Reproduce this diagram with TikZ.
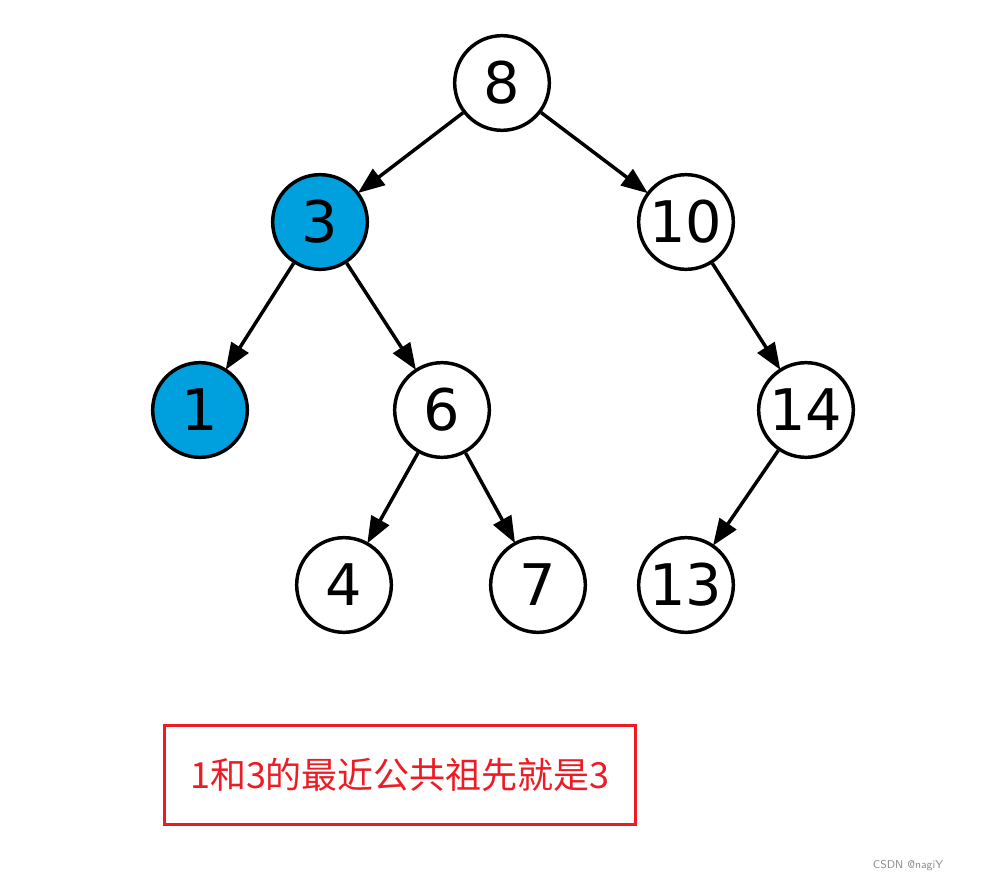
\documentclass[tikz,border=0pt]{standalone}
\usepackage{fontspec}
\usepackage{xcolor}
\usepackage{tikz}
\usetikzlibrary{positioning, arrows.meta}
\newfontfamily\numfont{DejaVu Sans}
\newfontfamily\cjk{Noto Sans CJK SC}
\definecolor{hilite}{RGB}{0,160,222}
\definecolor{notered}{RGB}{237,28,36}

\begin{document}
\begin{tikzpicture}[x=0.75pt, y=-0.75pt,
  key/.style={circle, draw, line width=2.6pt, minimum size=71pt, inner sep=0pt,
    font=\numfont\fontsize{43}{43}\selectfont},
  picked/.style={key, fill=hilite},
  arrow/.style={-{Triangle[length=20pt, width=15pt]}, line width=2.6pt, shorten >=-1pt}]
\useasboundingbox (0,0) rectangle (986,882);
% the tree
\node[key] (n8) at (502,83) {8};
\node[picked] (n3) at (320,222) {3};
\node[key] (n10) at (686,222) {10};
\node[picked] (n1) at (200,410) {1};
\node[key] (n6) at (442,410) {6};
\node[key] (n14) at (806,410) {14};
\node[key] (n4) at (344,585) {4};
\node[key] (n7) at (538,585) {7};
\node[key] (n13) at (686,585) {13};
\draw[arrow] (n8) -- (n3);
\draw[arrow] (n8) -- (n10);
\draw[arrow] (n3) -- (n1);
\draw[arrow] (n3) -- (n6);
\draw[arrow] (n10) -- (n14);
\draw[arrow] (n6) -- (n4);
\draw[arrow] (n6) -- (n7);
\draw[arrow] (n14) -- (n13);
% the note below
\node[draw=notered, line width=2.25pt, minimum width=353pt, minimum height=74pt,
  text=notered, font=\cjk\fontsize{27}{27}\selectfont] (note) at (400,775)
  {1和3的最近公共祖先就是3};
\node[text=black!45, font=\sffamily\fontsize{8.5}{8.5}\selectfont] (mark) at (908,866)
  {CSDN @nagiY};
\end{tikzpicture}
\end{document}
